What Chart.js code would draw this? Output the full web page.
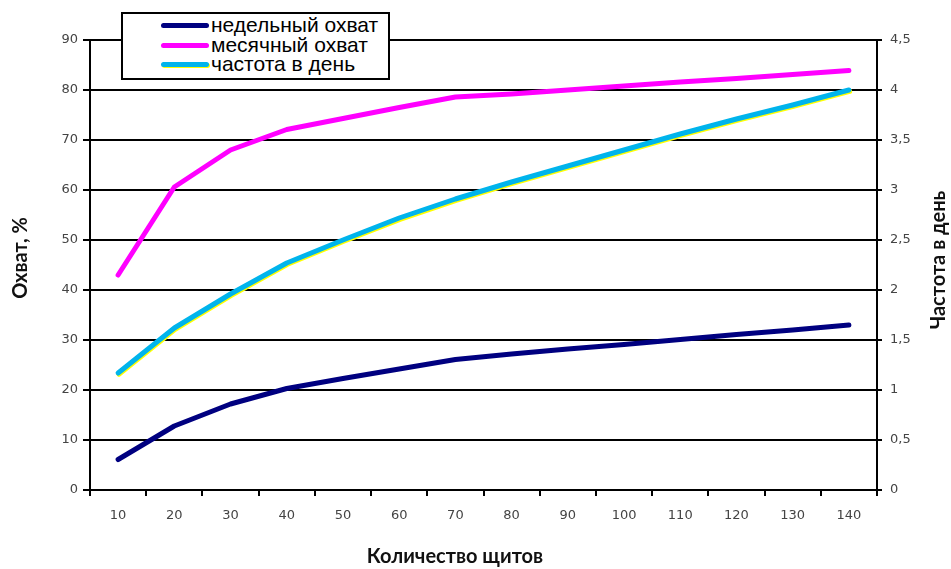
<!DOCTYPE html>
<html>
<head>
<meta charset="utf-8">
<script src="https://cdn.jsdelivr.net/npm/chart.js@4/dist/chart.umd.min.js"></script>
<style>
  html, body { margin: 0; padding: 0; background: #fff; }
  #wrap { position: relative; width: 951px; height: 569px; }
  #legend {
    position: absolute; left: 121px; top: 12px; width: 265px; height: 64px;
    border: 2px solid #000; background: #fff;
    font-family: "Liberation Sans", Arial, sans-serif; font-size: 21px; color: #000;
  }
  .row { position: absolute; left: 0; height: 20px; line-height: 20px; white-space: nowrap; }
  .sw { position: absolute; left: 38px; top: 8px; width: 48px; height: 5px; border-radius: 3px; }
  .tx { position: absolute; left: 88px; top: 0; }
</style>
</head>
<body>
<div id="wrap">
  <canvas id="c" width="951" height="569"></canvas>
  <div id="legend"></div>
</div>
<script>
const categories = ['10','20','30','40','50','60','70','80','90','100','110','120','130','140'];
const weeklyReach = [6.1, 12.8, 17.2, 20.3, 22.3, 24.2, 26.1, 27.2, 28.2, 29.1, 30.1, 31.1, 32.0, 33.0];
const monthlyReach = [43.0, 60.6, 68.0, 72.1, 74.3, 76.5, 78.6, 79.2, 80.0, 80.8, 81.6, 82.3, 83.1, 83.9];
const dailyFrequency = [1.17, 1.62, 1.96, 2.27, 2.50, 2.72, 2.91, 3.08, 3.24, 3.40, 3.56, 3.71, 3.85, 4.00];
const seriesNames = ['недельный охват', 'месячный охват', 'частота в день'];
const seriesColors = ['#000080', '#ff00ff', '#00b4ec'];
const leftTicks = [0,10,20,30,40,50,60,70,80,90];
const rightTicks = [0,0.5,1,1.5,2,2.5,3,3.5,4,4.5];
const titleLeft = 'Охват, %';
const titleRight = 'Частота в день';
const titleX = 'Количество щитов';

// HTML legend
const lg = document.getElementById('legend');
seriesNames.forEach((n, i) => {
  const r = document.createElement('div');
  r.className = 'row';
  r.style.top = (1 + i * 19.5) + 'px';
  const sw = document.createElement('div');
  sw.className = 'sw';
  sw.style.background = seriesColors[i];
  if (i === 2) sw.style.boxShadow = '1px 1px 0 #ffff00';
  const tx = document.createElement('span');
  tx.className = 'tx';
  tx.textContent = n;
  r.appendChild(sw); r.appendChild(tx);
  lg.appendChild(r);
});

const yellowEdge = {
  id: 'yellowEdge',
  beforeDatasetDraw(chart, args) {
    if (args.index === 2) {
      const c = chart.ctx; c.save();
      c.shadowColor = '#ffff00'; c.shadowOffsetX = 0.8; c.shadowOffsetY = 1.3; c.shadowBlur = 0;
    }
  },
  afterDatasetDraw(chart, args) {
    if (args.index === 2) chart.ctx.restore();
  }
};

const axisTitles = {
  id: 'axisTitles',
  afterDraw(chart) {
    const c = chart.ctx;
    c.save();
    c.fillStyle = '#111';
    c.font = 'bold 20px Lato, "DejaVu Sans", sans-serif';
    c.textAlign = 'center'; c.textBaseline = 'middle';
    c.save(); c.translate(21, 258); c.rotate(-Math.PI / 2); c.fillText(titleLeft, 0, 0); c.restore();
    c.save(); c.translate(939, 260); c.rotate(-Math.PI / 2); c.fillText(titleRight, 0, 0); c.restore();
    c.fillText(titleX, 455, 557);
    c.restore();
  }
};

const fmt = v => String(v).replace('.', ',');
const tickFont = { family: '"DejaVu Sans", Verdana, sans-serif', size: 13 };

new Chart(document.getElementById('c'), {
  type: 'line',
  data: {
    labels: categories,
    datasets: [
      { label: seriesNames[0], data: weeklyReach, yAxisID: 'y', borderColor: seriesColors[0] },
      { label: seriesNames[1], data: monthlyReach, yAxisID: 'y', borderColor: seriesColors[1] },
      { label: seriesNames[2], data: dailyFrequency, yAxisID: 'y1', borderColor: seriesColors[2] }
    ]
  },
  options: {
    responsive: false,
    animation: false,
    devicePixelRatio: 1,
    layout: { padding: { top: 40, left: 0, right: 0, bottom: 0 } },
    elements: {
      line: { borderWidth: 5, borderCapStyle: 'round', borderJoinStyle: 'round', tension: 0, fill: false },
      point: { radius: 0, hoverRadius: 0 }
    },
    plugins: { legend: { display: false }, tooltip: { enabled: false } },
    scales: {
      x: {
        type: 'category',
        offset: true,
        grid: { offset: true, drawOnChartArea: false, color: '#000', lineWidth: 2, tickLength: 6 },
        border: { color: '#000', width: 2 },
        ticks: { color: '#444', font: tickFont, padding: 12, maxRotation: 0, autoSkip: false },
        afterFit: s => { s.height = 79; }
      },
      y: {
        position: 'left',
        min: 0, max: 90,
        afterBuildTicks: s => { s.ticks = leftTicks.map(v => ({ value: v })); },
        grid: { color: '#000', lineWidth: 2, tickLength: 7 },
        border: { color: '#000', width: 2 },
        ticks: { color: '#444', font: tickFont, padding: 5 },
        afterFit: s => { s.width = 90; }
      },
      y1: {
        position: 'right',
        min: 0, max: 4.5,
        afterBuildTicks: s => { s.ticks = rightTicks.map(v => ({ value: v })); },
        grid: { drawOnChartArea: false, color: '#000', lineWidth: 2, tickLength: 5 },
        border: { color: '#000', width: 2 },
        ticks: { color: '#444', font: tickFont, padding: 8, callback: v => fmt(v) },
        afterFit: s => { s.width = 74; }
      }
    }
  },
  plugins: [yellowEdge, axisTitles]
});
</script>
</body>
</html>
